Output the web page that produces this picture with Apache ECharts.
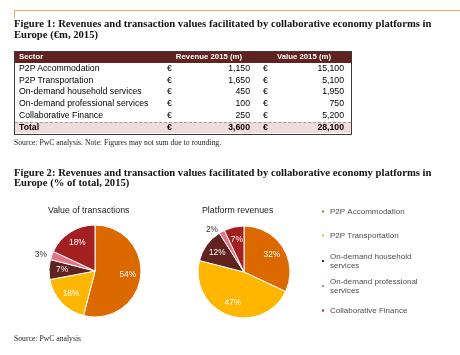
<!DOCTYPE html>
<html><head><meta charset="utf-8">
<script src="https://cdn.jsdelivr.net/npm/echarts@6/dist/echarts.min.js"></script>
<style>
html,body{margin:0;padding:0;background:#fff;width:460px;height:355px;overflow:hidden;}
#chart{position:absolute;left:0;top:0;width:460px;height:355px;}
.t{position:absolute;white-space:nowrap;}
.head{font-family:'Liberation Serif','Times New Roman',serif;font-weight:bold;font-size:10.65px;line-height:10.4px;color:#111;left:14px;}
.src{font-family:'Liberation Serif','Times New Roman',serif;font-size:7.7px;line-height:9px;color:#222;left:14px;}
.tb{font-family:'Liberation Sans',Arial,sans-serif;font-size:8.7px;color:#000;}
.th{font-family:'Liberation Sans',Arial,sans-serif;font-size:7.8px;font-weight:bold;color:#fff;}
</style></head><body>
<div id="chart"></div>
<div id="doc"></div>
<script>
// ---- data ----
const sectors = ['P2P Accommodation','P2P Transportation','On-demand household services','On-demand professional services','Collaborative Finance'];
const revenue2015 = [1150, 1650, 450, 100, 250];
const value2015 = [15100, 5100, 1950, 750, 5200];
const revenueTotal = 3600;
const valueTotal = 28100;
const transactionShare = [54, 18, 7, 3, 18];
const revenueShare = [32, 47, 12, 2, 7];
const legendLabels = ['P2P Accommodation','P2P Transportation','On-demand household\nservices','On-demand professional\nservices','Collaborative Finance'];
const colors = ['#dc6900','#ffb600','#602320','#e27588','#a32020'];

// ---- document (titles + table) ----
const doc = document.getElementById('doc');
function add(html, cls, style){ const d=document.createElement('div'); d.className='t '+(cls||''); d.innerHTML=html; Object.assign(d.style, style||{}); doc.appendChild(d); return d; }
add('', '', {left:'14px', top:'10px', width:'446px', height:'1px', background:'#f2a65a'});
add('', '', {left:'14px', top:'10px', width:'1px', height:'8px', background:'#f2a65a'});
add('Figure 1: Revenues and transaction values facilitated by collaborative economy platforms in<br>Europe (€m, 2015)', 'head', {top:'19.3px'});
// table frame
add('', '', {left:'14px', top:'51px', width:'338px', height:'83.5px', border:'1px solid #3a3a3a', boxSizing:'border-box'});
add('', '', {left:'15px', top:'52px', width:'336px', height:'11px', background:'#602320'});
add('', '', {left:'15px', top:'121.5px', width:'336px', height:'11.5px', background:'#f2dcdb', borderTop:'1px dashed #9a9a9a', boxSizing:'border-box'});
const fmt = v => v.toLocaleString('en-US');
add('Sector', 'th', {left:'19px', top:'51px', lineHeight:'12px'});
add('Revenue 2015 (m)', 'th', {left:'159px', width:'100px', textAlign:'center', top:'51px', lineHeight:'12px'});
add('Value 2015 (m)', 'th', {left:'254px', width:'100px', textAlign:'center', top:'51px', lineHeight:'12px'});
const rowH = 11.7;
const rows = sectors.map((s,i)=>[s, revenue2015[i], value2015[i], false]).concat([['Total', revenueTotal, valueTotal, true]]);
rows.forEach((r,i)=>{
  const top = (63 + i*rowH) + 'px';
  const st = {top, lineHeight: rowH+'px', fontWeight: r[3]?'bold':'normal'};
  add(r[0], 'tb', Object.assign({left:'19px'}, st));
  add('€', 'tb', Object.assign({left:'167px'}, st));
  add(fmt(r[1]), 'tb', Object.assign({left:'190px', width:'60px', textAlign:'right'}, st));
  add('€', 'tb', Object.assign({left:'263px'}, st));
  add(fmt(r[2]), 'tb', Object.assign({left:'284px', width:'60px', textAlign:'right'}, st));
});
add('Source: PwC analysis. Note: Figures may not sum due to rounding.', 'src', {top:'137.5px'});
add('Figure 2: Revenues and transaction values facilitated by collaborative economy platforms in<br>Europe (% of total, 2015)', 'head', {top:'167.5px'});
add('Source: PwC analysis', 'src', {top:'333.5px'});

// ---- charts ----
const chart = echarts.init(document.getElementById('chart'), null, {renderer:'canvas'});
const sans = "'Liberation Sans', Arial, sans-serif";
function pieSeries(center, shares){
  const R = 46;
  return [{
    type:'pie', center, radius:R, startAngle:90, clockwise:true, avoidLabelOverlap:false,
    itemStyle:{borderColor:'#fff', borderWidth:1},
    label:{show:false}, labelLine:{show:false, length:2, length2:0},
    emphasis:{disabled:true},
    data: sectors.map((n,i)=>({name:n, value:shares[i], itemStyle:{color:colors[i]},
      label: shares[i] < 5 ? {show:true, position:'outside', formatter:'{c}%', color:'#333', fontSize:8.3, fontFamily:sans, distanceToLabelLine:3} : {show:false}}))
  },{
    type:'pie', center, radius:[14, R], startAngle:90, clockwise:true, avoidLabelOverlap:false, silent:true,
    itemStyle:{color:'rgba(0,0,0,0)', borderWidth:0},
    label:{show:true, position:'inside', formatter:'{c}%', color:'#fff', fontSize:8.3, fontFamily:sans},
    labelLine:{show:false}, emphasis:{disabled:true},
    data: sectors.map((n,i)=>({name:n, value:shares[i], label:{show: shares[i] >= 5}}))
  }];
}
const legendTops = [207, 231, 247.5, 272.5, 306];
const legends = sectors.map((n,i)=>{
  const twoLine = legendLabels[i].indexOf('\n') >= 0;
  return {
    orient:'vertical', left:320, top:legendTops[i], padding:0, itemWidth:4, itemHeight:4, icon:'rect',
    selectedMode:false, data:[n],
    formatter: () => legendLabels[i],
    textStyle:{color:'#4d4d4d', fontSize:8, fontFamily:sans, lineHeight:9, padding: twoLine ? [9,0,0,0] : 0}
  };
});
chart.setOption({
  animation:false,
  title:[
    {text:'Value of transactions', left:48, top:206, padding:0, textStyle:{fontSize:8.8, fontWeight:'normal', color:'#1a1a1a', fontFamily:sans, lineHeight:10}},
    {text:'Platform revenues', left:202, top:206, padding:0, textStyle:{fontSize:8.8, fontWeight:'normal', color:'#1a1a1a', fontFamily:sans, lineHeight:10}}
  ],
  legend: legends,
  series: pieSeries([95,271], transactionShare).concat(pieSeries([244,272], revenueShare))
});
</script>
</body></html>
